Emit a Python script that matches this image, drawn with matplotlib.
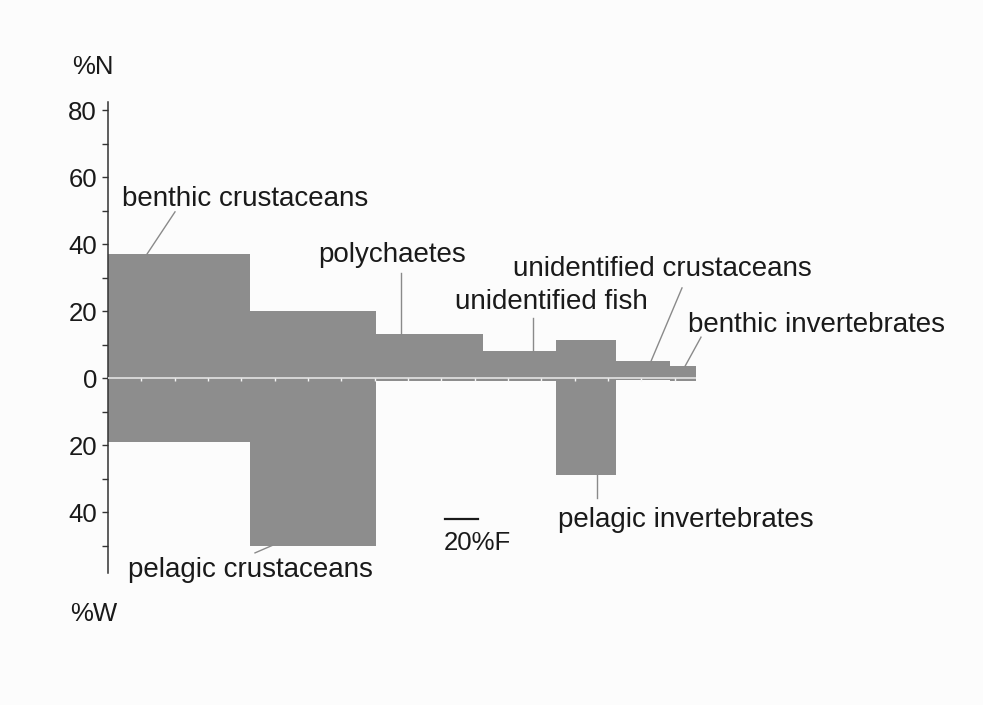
import numpy as np
import matplotlib
matplotlib.use("Agg")
import matplotlib.pyplot as plt
from matplotlib.ticker import MultipleLocator, FuncFormatter

# Prey categories with frequency of occurrence (%F, bar width),
# numerical importance (%N, upward) and weight (%W, downward)
categories = ["benthic crustaceans", "pelagic crustaceans", "polychaetes",
              "unidentified fish", "pelagic invertebrates",
              "unidentified crustaceans", "benthic invertebrates"]
pct_F = [85, 76, 64, 44, 36, 32, 16]
pct_N = [37, 20, 13, 8, 11.5, 5, 3.5]
pct_W = [19, 50, 1.0, 0.8, 29, 0.5, 0.8]

y_major = [-40, -20, 0, 20, 40, 60, 80]
scale_F = 20

plt.rcParams["font.family"] = ["Liberation Sans", "DejaVu Sans"]

fig = plt.figure(figsize=(9.83, 7.05), dpi=100)
fig.patch.set_facecolor("#fcfcfc")
W_px, H_px = 983, 705
ax = fig.add_axes([108 / W_px, (H_px - 573) / H_px, (970 - 108) / W_px, 471 / H_px])
ax.set_facecolor("none")
ax.set_xlim(0, 517.2)
ax.set_ylim(-58.2, 82.4)

left = np.concatenate([[0], np.cumsum(pct_F)[:-1]])
bar_color = "#8d8d8d"
ax.bar(left, pct_N, width=pct_F, align="edge", color=bar_color,
       linewidth=0, zorder=2)
ax.bar(left, [-w for w in pct_W], width=pct_F, align="edge", color=bar_color,
       linewidth=0, zorder=2)

# zero line with %F ticks
total_F = float(np.sum(pct_F))
ax.hlines(0, 0, total_F, color="#d6d6d6", lw=1.4, zorder=3)
for f in np.arange(scale_F, total_F, scale_F):
    ax.vlines(f, -0.9, 0, color="#f4f4f4", lw=1.0, zorder=3)

# axes styling
for s in ["top", "right", "bottom"]:
    ax.spines[s].set_visible(False)
ax.spines["left"].set_color("#333333")
ax.spines["left"].set_linewidth(1.1)
ax.set_xticks([])
ax.yaxis.set_major_locator(plt.FixedLocator(y_major))
ax.yaxis.set_minor_locator(MultipleLocator(10))
ax.yaxis.set_major_formatter(FuncFormatter(lambda v, p: f"{abs(int(v))}"))
ax.tick_params(axis="y", which="both", direction="out", length=4, width=1,
               color="#333333", labelsize=18.5, pad=4, labelcolor="#1a1a1a")

txt_kw = dict(fontsize=20, color="#1a1a1a", va="baseline", ha="left")
lead_kw = dict(color="#8a8a8a", lw=1.0, zorder=4)

# label text anchor (x in %F units, y in % units), leader start and end
labels = {
    "benthic crustaceans":     ((8.4, 51.4),   (40.2, 49.6), (23.4, None)),
    "pelagic crustaceans":     ((12.0, -59.4), (98.4, None), (88.2, -52.2)),
    "polychaetes":             ((126.0, 34.6), (175.8, 31.3), (175.8, None)),
    "unidentified fish":       ((208.2, 20.6), (255.0, 17.9), (255.0, None)),
    "pelagic invertebrates":   ((270.0, -44.5), (293.4, None), (293.4, -35.8)),
    "unidentified crustaceans": ((243.0, 30.4), (344.4, 26.9), (325.8, None)),
    "benthic invertebrates":   ((348.0, 13.7), (355.8, 12.2), (346.2, None)),
}

for i, name in enumerate(categories):
    (tx, ty), p0, p1 = labels[name]
    ax.text(tx, ty, name, clip_on=False, **txt_kw)
    if name in ("pelagic crustaceans", "pelagic invertebrates"):
        # leader leaves the bottom of the %W bar
        ax.plot([p0[0], p1[0]], [-pct_W[i], p1[1]], clip_on=False, **lead_kw)
    else:
        ax.plot([p0[0], p1[0]], [p0[1], pct_N[i]], clip_on=False, **lead_kw)

# axis titles
ax.text(-21.6, 90.7, "%N", fontsize=18.5, color="#1a1a1a", va="baseline", clip_on=False)
ax.text(-22.8, -72.5, "%W", fontsize=18.5, color="#1a1a1a", va="baseline", clip_on=False)

# %F scale bar
sx = 202.2
ax.plot([sx, sx + scale_F], [-42, -42], color="#1a1a1a", lw=1.6, clip_on=False)
ax.text(sx - 0.6, -51.3, f"{scale_F}%F", fontsize=18.5, color="#1a1a1a",
        va="baseline", clip_on=False)

fig.savefig("out.png", dpi=100, facecolor=fig.get_facecolor())
